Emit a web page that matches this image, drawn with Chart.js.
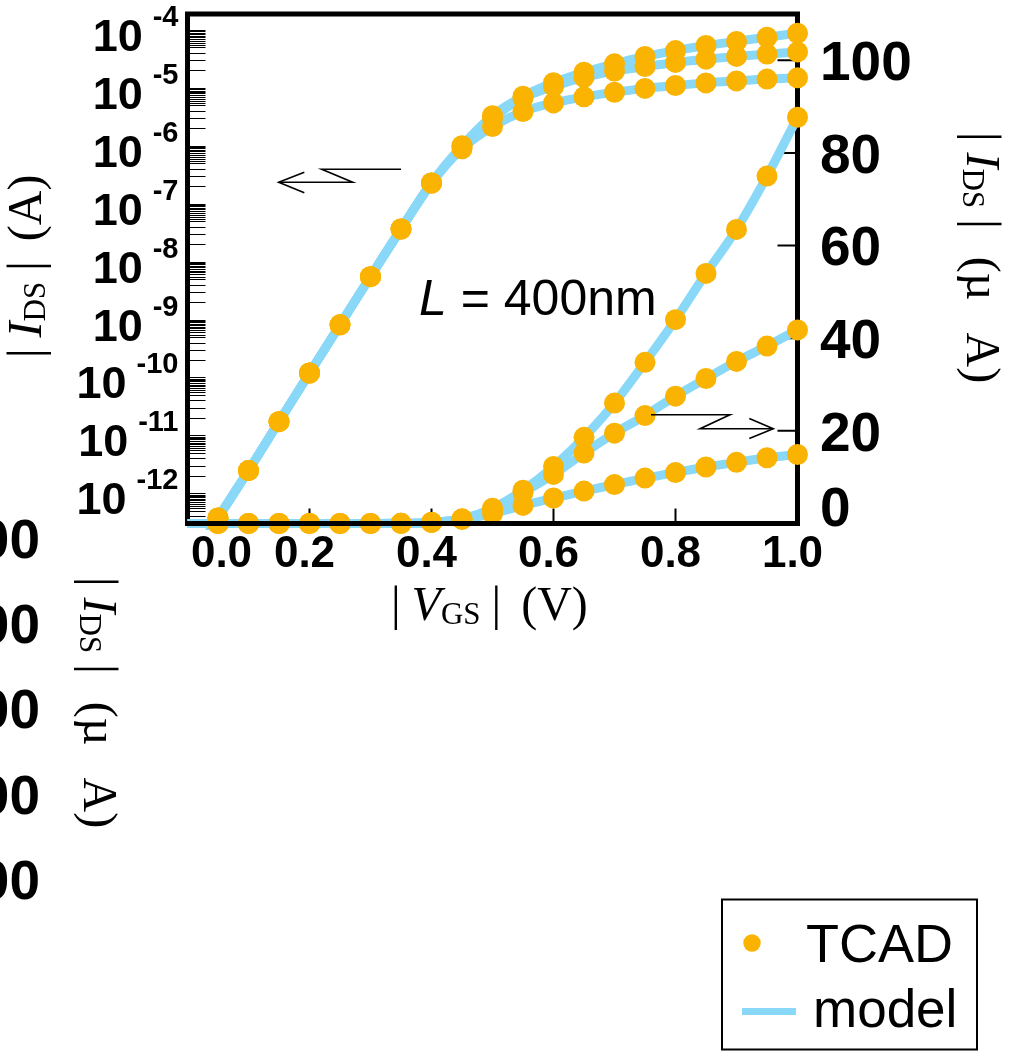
<!DOCTYPE html>
<html>
<head>
<meta charset="utf-8">
<title>|IDS| vs |VGS| — TCAD and model, L = 400nm</title>
<script src="https://cdn.jsdelivr.net/npm/chart.js@4.4.1/dist/chart.umd.min.js"></script>
<style>
  html, body { margin: 0; padding: 0; background: #fff; }
  #wrap { position: relative; width: 1009px; height: 1051px; overflow: hidden; }
  canvas { display: block; }
</style>
</head>
<body>
<div id="wrap"><canvas id="c" width="1009" height="1051"></canvas></div>
<script>
// ---- data -------------------------------------------------------------
// gate voltage |VGS| (V) of the TCAD sweep
const vgs = [0.05, 0.10, 0.15, 0.20, 0.25, 0.30, 0.35, 0.40, 0.45, 0.50,
             0.55, 0.60, 0.65, 0.70, 0.75, 0.80, 0.85, 0.90, 0.95, 1.00];

// TCAD drain current |IDS| (µA) for the three drain biases
const tcadHigh = [3.75e-7, 2.46e-6, 1.72e-5, 1.19e-4, 8.1e-4, 5.5e-3, 0.0366, 0.228, 1.00, 3.3,
                  7.2, 12.3, 18.6, 26.0, 34.8, 44.0, 54.0, 63.5, 75.0, 87.7];
const tcadMid  = [3.75e-7, 2.46e-6, 1.72e-5, 1.19e-4, 8.1e-4, 5.5e-3, 0.0366, 0.228, 0.98, 3.0,
                  6.7, 10.6, 15.2, 19.5, 23.3, 27.5, 31.3, 35.0, 38.3, 41.8];
const tcadLow  = [3.75e-7, 2.46e-6, 1.72e-5, 1.19e-4, 8.1e-4, 5.5e-3, 0.0366, 0.228, 0.89, 2.15,
                  3.9, 5.5, 7.0, 8.4, 9.8, 11.0, 12.2, 13.2, 14.2, 14.9];

// compact model |IDS| (µA), evaluated from 0 V
const vgsModel  = [0.00, 0.05, 0.10, 0.15, 0.20, 0.25, 0.30, 0.35, 0.40, 0.45, 0.50,
                   0.55, 0.60, 0.65, 0.70, 0.75, 0.80, 0.85, 0.90, 0.95, 1.00];
const modelHigh = [5.4e-8, 3.75e-7, 2.46e-6, 1.72e-5, 1.19e-4, 8.1e-4, 5.5e-3, 0.0366, 0.228, 1.00, 3.3,
                   7.2, 12.3, 18.6, 26.0, 34.8, 44.0, 54.0, 63.5, 75.0, 87.7];
const modelMid  = [5.4e-8, 3.75e-7, 2.46e-6, 1.72e-5, 1.19e-4, 8.1e-4, 5.5e-3, 0.0366, 0.228, 0.98, 3.0,
                   6.7, 10.6, 15.2, 19.5, 23.3, 27.5, 31.3, 35.0, 38.3, 41.8];
const modelLow  = [5.4e-8, 3.75e-7, 2.46e-6, 1.72e-5, 1.19e-4, 8.1e-4, 5.5e-3, 0.0366, 0.228, 0.89, 2.15,
                   3.9, 5.5, 7.0, 8.4, 9.8, 11.0, 12.2, 13.2, 14.2, 14.9];

// axis ticks
const vTicks      = [0.0, 0.2, 0.4, 0.6, 0.8, 1.0];
const linTicks    = [0, 20, 40, 60, 80, 100];
const logDecades  = [-4, -5, -6, -7, -8, -9, -10, -11, -12];
const logSubSteps = [1, 2, 3, 4, 5, 5.5, 6, 6.5, 7, 7.5, 8, 8.5, 9, 9.5];

// tick labels of the neighbouring panel's right axis (cut by the page edge)
const sideLabels = ['500', '400', '300', '200', '100'];

// ---- style ------------------------------------------------------------
const SANS  = "'Liberation Sans', Arial, Helvetica, sans-serif";
const SERIF = "'Liberation Serif', 'Times New Roman', serif";
const INK   = '#000000';
const DOT   = '#F9B300';
const LINE  = '#8AD8F8';

const pts = (xs, ys, k) => xs.map((x, i) => ({ x: x, y: ys[i] * k }));

const modelStyle = {
  showLine: true, borderColor: LINE, backgroundColor: LINE, borderWidth: 9,
  pointRadius: 0, cubicInterpolationMode: 'monotone', fill: false,
  borderCapStyle: 'round', borderJoinStyle: 'round',
  clip: { left: 0, top: 0, right: 0, bottom: 6 }, order: 2
};
const dotStyle = {
  showLine: false, pointRadius: 10.5, pointBackgroundColor: DOT, pointBorderWidth: 0,
  backgroundColor: DOT, borderColor: DOT, clip: false, order: 1
};

const series = [
  { tcad: tcadHigh, model: modelHigh },
  { tcad: tcadMid,  model: modelMid },
  { tcad: tcadLow,  model: modelLow }
];

const datasets = [];
series.forEach(s => {
  // log axis in A, linear axis in µA
  datasets.push(Object.assign({ label: 'model', yAxisID: 'y',  data: pts(vgsModel, s.model, 1e-6) }, modelStyle));
  datasets.push(Object.assign({ label: 'model', yAxisID: 'y2', data: pts(vgsModel, s.model, 1) }, modelStyle));
});
series.forEach(s => {
  datasets.push(Object.assign({ label: 'TCAD', yAxisID: 'y',  data: pts(vgs, s.tcad, 1e-6) }, dotStyle));
  datasets.push(Object.assign({ label: 'TCAD', yAxisID: 'y2', data: pts(vgs, s.tcad, 1) }, dotStyle));
});

// ---- text helpers -----------------------------------------------------
const TF  = `48px ${SERIF}`;
const TFI = `italic 48px ${SERIF}`;
const TFS = `31px ${SERIF}`;

function drawRun(ctx, pieces) {
  let x = 0;
  for (const p of pieces) {
    if (p.gap) { x += p.gap; continue; }
    ctx.font = p.f || TF;
    ctx.fillText(p.t, x, p.dy || 0);
    x += ctx.measureText(p.t).width;
  }
}
function drawTitle(ctx, x0, y0, angle, pieces) {
  ctx.save();
  ctx.translate(x0, y0);
  ctx.rotate(angle);
  ctx.textAlign = 'left';
  ctx.textBaseline = 'alphabetic';
  ctx.fillStyle = INK;
  drawRun(ctx, pieces);
  ctx.restore();
}
const titleVgs = [{ t: '|' }, { gap: 11 }, { t: 'V', f: TFI }, { t: 'GS', f: TFS, dy: 4 },
                  { gap: 11 }, { t: '|' }, { gap: 20 }, { t: '(V)' }];
const titleIdsA = [{ t: '|' }, { gap: 11 }, { t: 'I', f: TFI }, { t: 'DS', f: TFS, dy: 4 },
                   { gap: 11 }, { t: '|' }, { gap: 20 }, { t: '(A)' }];
const titleIdsUA = [{ t: '|' }, { gap: 11 }, { t: 'I', f: TFI }, { t: 'DS', f: TFS, dy: 4 },
                    { gap: 11 }, { t: '|' }, { gap: 28 }, { t: '(\u00B5' }, { gap: 32 }, { t: 'A)' }];

function polyline(ctx, xs, ys, sx, sy) {
  ctx.beginPath();
  xs.forEach((v, i) => {
    const px = sx.getPixelForValue(v), py = sy.getPixelForValue(ys[i]);
    if (i === 0) ctx.moveTo(px, py); else ctx.lineTo(px, py);
  });
  ctx.stroke();
}

// ---- frame, ticks, labels and annotations -----------------------------
const decor = {
  id: 'decor',
  beforeDatasetsDraw(chart) {
    const { ctx, chartArea: a, scales } = chart;
    ctx.save();
    ctx.strokeStyle = INK;
    ctx.lineWidth = 5;
    ctx.lineCap = 'square';
    ctx.beginPath();
    ctx.moveTo(a.left, a.bottom);
    ctx.lineTo(a.left, a.top);
    ctx.lineTo(a.right, a.top);
    ctx.lineTo(a.right, a.bottom);
    ctx.stroke();

    ctx.lineCap = 'butt';
    // log ticks: fine hairlines
    ctx.lineWidth = 1.2;
    ctx.beginPath();
    for (const t of scales.y.ticks) {
      const y = Math.round(scales.y.getPixelForValue(t.value)) + 0.5;
      if (y < a.top + 3 || y > a.bottom - 3) continue;
      ctx.moveTo(a.left, y); ctx.lineTo(a.left + 18, y);
    }
    ctx.stroke();
    ctx.lineWidth = 2;
    ctx.beginPath();
    for (const t of scales.y2.ticks) {
      const y = scales.y2.getPixelForValue(t.value);
      if (y < a.top + 3 || y > a.bottom - 3) continue;
      ctx.moveTo(a.right, y); ctx.lineTo(a.right - 20, y);
    }
    for (const t of scales.x.ticks) {
      const x = scales.x.getPixelForValue(t.value);
      if (x < a.left + 3 || x > a.right - 3) continue;
      ctx.moveTo(x, a.bottom); ctx.lineTo(x, a.bottom - 15);
    }
    ctx.stroke();
    ctx.restore();
  },
  afterDatasetsDraw(chart) {
    const { ctx, chartArea: a, scales } = chart;
    const sx = scales.x, sy = scales.y, s2 = scales.y2;
    ctx.save();
    // bottom axis line
    ctx.strokeStyle = INK;
    ctx.lineWidth = 5;
    ctx.lineCap = 'square';
    ctx.beginPath();
    ctx.moveTo(a.left, a.bottom);
    ctx.lineTo(a.right, a.bottom);
    ctx.stroke();

    ctx.fillStyle = INK;
    ctx.textBaseline = 'alphabetic';

    // left log labels: 10 with exponent
    ctx.textAlign = 'left';
    const labRight = a.left - 9;
    for (const e of logDecades) {
      const t = sy.getPixelForValue(Math.pow(10, e));
      const ex = String(e);
      ctx.font = `bold 29px ${SANS}`;
      const ew = ctx.measureText(ex).width;
      ctx.fillText(ex, labRight - ew, t - 4);
      ctx.font = `bold 45px ${SANS}`;
      const bw = ctx.measureText('10').width;
      ctx.fillText('10', labRight - ew - 10 - bw, t + 21);
    }

    // right linear labels
    ctx.font = `bold 55px ${SANS}`;
    for (const v of linTicks) {
      const t = s2.getPixelForValue(v);
      ctx.fillText(String(v), a.right + 22.5, v === 0 ? t + 2.5 : t + 19.7);
    }

    // bottom labels
    ctx.font = `bold 44px ${SANS}`;
    ctx.textAlign = 'center';
    for (const v of vTicks) {
      const x = sx.getPixelForValue(v);
      ctx.fillText(v.toFixed(1), v === 0 ? x + 34 : x - 5, a.bottom + 43.5);
    }

    // axis titles
    drawTitle(ctx, 391, 620, 0, titleVgs);
    drawTitle(ctx, 41, 358, -Math.PI / 2, titleIdsA);
    drawTitle(ctx, 967, 132, Math.PI / 2, titleIdsUA);

    // neighbouring panel, cut by the page edge
    drawTitle(ctx, 84, 577, Math.PI / 2, titleIdsUA);
    ctx.font = `bold 55px ${SANS}`;
    ctx.textAlign = 'right';
    sideLabels.forEach((s, i) => ctx.fillText(s, 40, 558 + i * 85.2));

    // channel length note
    ctx.textAlign = 'left';
    const lx = sx.getPixelForValue(0.3795), ly = s2.getPixelForValue(45.0);
    ctx.font = `italic 50px ${SANS}`;
    ctx.fillText('L', lx, ly);
    const lw = ctx.measureText('L').width;
    ctx.font = `50px ${SANS}`;
    ctx.fillText(' = 400nm', lx + lw, ly);

    // arrows pointing to the axis each family belongs to
    ctx.lineWidth = 1.6;
    ctx.lineCap = 'butt';
    ctx.lineJoin = 'miter';
    polyline(ctx, [0.350, 0.220, 0.2708, 0.1495], [76.47, 76.47, 73.66, 73.66], sx, s2);
    polyline(ctx, [0.1915, 0.1495, 0.1915], [75.82, 73.66, 71.42], sx, s2);
    polyline(ctx, [0.7598, 0.8893, 0.8402, 0.9603], [23.49, 23.49, 20.47, 20.47], sx, s2);
    polyline(ctx, [0.921, 0.9603, 0.921], [22.67, 20.47, 18.35], sx, s2);

    // legend
    ctx.lineWidth = 2;
    ctx.strokeRect(722, 899.5, 255, 150);
    ctx.fillStyle = DOT;
    ctx.beginPath();
    ctx.arc(752, 943, 8.7, 0, Math.PI * 2);
    ctx.fill();
    ctx.strokeStyle = LINE;
    ctx.lineWidth = 7;
    ctx.beginPath();
    ctx.moveTo(742, 1011.5);
    ctx.lineTo(796, 1011.5);
    ctx.stroke();
    ctx.fillStyle = INK;
    ctx.font = `54px ${SANS}`;
    ctx.fillText('TCAD', 806, 962);
    ctx.font = `53px ${SANS}`;
    ctx.fillText('model', 813, 1027);
    ctx.restore();
  }
};

const hidden = { ticks: { display: false }, grid: { display: false }, border: { display: false } };

new Chart(document.getElementById('c'), {
  type: 'scatter',
  data: { datasets: datasets },
  options: {
    responsive: false,
    animation: false,
    events: [],
    layout: { padding: { top: 14, left: 0, right: 0, bottom: 0 } },
    plugins: { legend: { display: false }, tooltip: { enabled: false } },
    scales: {
      x: Object.assign({
        type: 'linear', position: 'bottom', min: 0, max: 1,
        afterBuildTicks: s => { s.ticks = vTicks.map(v => ({ value: v })); },
        afterFit: s => { s.height = 527.5; }
      }, hidden),
      y: Object.assign({
        type: 'logarithmic', position: 'left',
        min: Math.pow(10, -12.5086), max: Math.pow(10, -3.7241),
        afterBuildTicks: s => {
          const out = [];
          for (let e = -13; e <= -4; e++) {
            for (const k of logSubSteps) {
              const v = k * Math.pow(10, e);
              if (v >= s.min && v <= s.max) out.push({ value: v });
            }
          }
          s.ticks = out;
        },
        afterFit: s => { s.width = 187.5; }
      }, hidden),
      y2: Object.assign({
        type: 'linear', position: 'right', min: 0, max: 110,
        afterBuildTicks: s => { s.ticks = linTicks.map(v => ({ value: v })); },
        afterFit: s => { s.width = 211.5; }
      }, hidden)
    }
  },
  plugins: [decor]
});
</script>
</body>
</html>
